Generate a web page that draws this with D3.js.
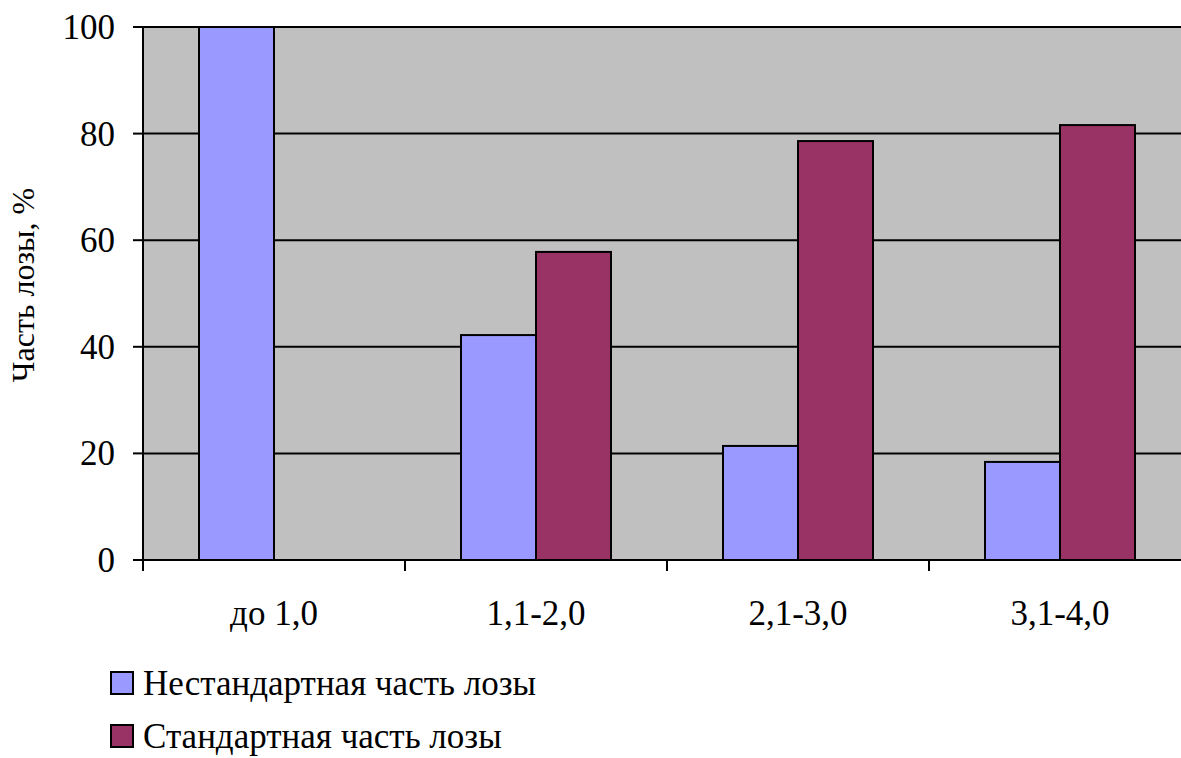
<!DOCTYPE html>
<html><head><meta charset="utf-8">
<script src="https://cdn.jsdelivr.net/npm/d3@7/dist/d3.min.js"></script>
</head><body style="margin:0;overflow:hidden;font-family:'Liberation Serif'">
<svg id="c" width="1181" height="758" style="display:block"></svg>
<script>
const categories = ["до 1,0", "1,1-2,0", "2,1-3,0", "3,1-4,0"];
const seriesNames = ["Нестандартная часть лозы", "Стандартная часть лозы"];
const nonStandard = [100, 42.2, 21.4, 18.4];
const standard = [0, 57.8, 78.6, 81.6];
const yTicks = [0, 20, 40, 60, 80, 100];
const colors = ["#9999ff", "#993366"];
const yTitle = "Часть лозы, %";

const svg = d3.select("#c");
const pLeft = 143, pTop = 27, pBottom = 560, pRight = 143 + 4 * 262;

const x = d3.scaleBand().domain(categories).range([pLeft, pRight]).paddingInner(0).paddingOuter(0);
const xs = d3.scaleBand().domain([0, 1]).range([0, x.bandwidth()]).paddingInner(0).paddingOuter((262 / 75 - 2) / 2);
const y = d3.scaleLinear().domain([0, 100]).range([pBottom, pTop]);

svg.append("rect").attr("x", pLeft).attr("y", pTop).attr("width", pRight - pLeft).attr("height", pBottom - pTop).attr("fill", "#c0c0c0");

// gridlines
svg.append("g").selectAll("line").data(yTicks.filter(d => d > 0)).join("line")
  .attr("x1", pLeft).attr("x2", pRight).attr("y1", d => y(d)).attr("y2", d => y(d))
  .attr("stroke", "#000").attr("stroke-width", 2);

const data = categories.map((c, i) => ({c, vals: [nonStandard[i], standard[i]]}));
const g = svg.append("g");
data.forEach(d => {
  d.vals.forEach((v, j) => {
    if (v <= 0) return;
    g.append("rect")
      .attr("x", x(d.c) + xs(j)).attr("width", xs.bandwidth())
      .attr("y", y(v)).attr("height", y(0) - y(v))
      .attr("fill", colors[j]).attr("stroke", "#000").attr("stroke-width", 2);
  });
});

function txt(parent, size) {
  return parent.append("text").style("font-family", '"Liberation Serif"').attr("font-size", size).attr("fill", "#000");
}

// y axis
svg.append("line").attr("x1", pLeft).attr("x2", pLeft).attr("y1", pTop).attr("y2", pBottom + 11)
  .attr("stroke", "#000").attr("stroke-width", 2);
yTicks.forEach(t => {
  svg.append("line").attr("x1", pLeft - 10).attr("x2", pLeft).attr("y1", y(t)).attr("y2", y(t))
    .attr("stroke", "#000").attr("stroke-width", 2);
  txt(svg, 35).attr("x", 115).attr("y", y(t)).attr("dy", "0.34em").attr("text-anchor", "end").text(t);
});

// x axis
svg.append("line").attr("x1", pLeft).attr("x2", pRight).attr("y1", pBottom).attr("y2", pBottom)
  .attr("stroke", "#000").attr("stroke-width", 2);
categories.map(c => x(c)).concat([pRight]).forEach(px => {
  svg.append("line").attr("x1", px).attr("x2", px).attr("y1", pBottom).attr("y2", pBottom + 11)
    .attr("stroke", "#000").attr("stroke-width", 2);
});
categories.forEach(c => {
  txt(svg, 35).attr("x", x(c) + x.bandwidth() / 2).attr("y", pBottom + 65).attr("text-anchor", "middle").text(c);
});

// y title
txt(svg, 32).attr("transform", "translate(34,285) rotate(-90)").attr("text-anchor", "middle").text(yTitle);

// legend
seriesNames.forEach((s, i) => {
  const cy = 683 + i * 53;
  svg.append("rect").attr("x", 111).attr("y", cy - 11).attr("width", 22).attr("height", 22)
    .attr("fill", colors[i]).attr("stroke", "#000").attr("stroke-width", 2);
  txt(svg, 35).attr("x", 143).attr("y", cy + 12).text(s);
});
</script>
</body></html>
